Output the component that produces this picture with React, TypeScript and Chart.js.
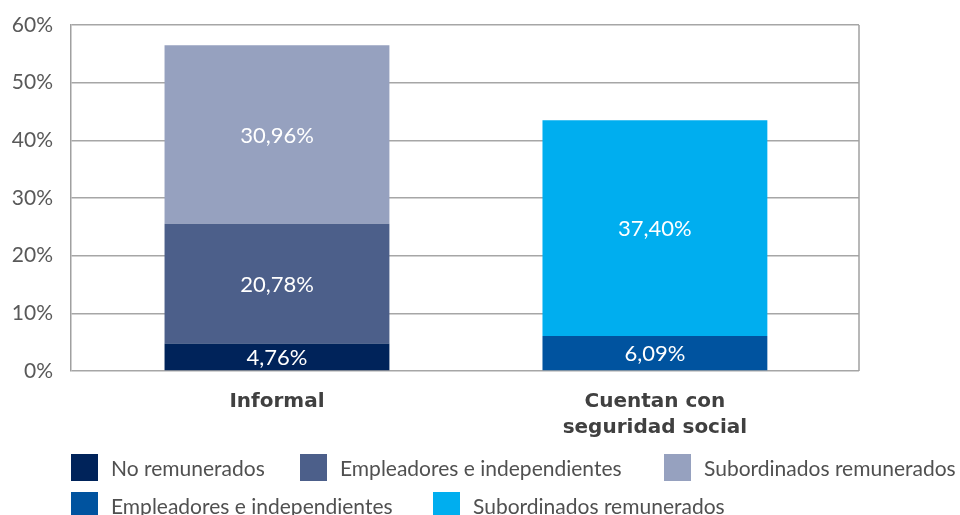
import React, { useEffect, useRef } from "react";
import { Chart, registerables } from "chart.js";

Chart.register(...registerables);

const categories: (string | string[])[] = ["Informal", ["Cuentan con", "seguridad social"]];
const categoryPositions = [0, 1];
const seriesNames = [
  "No remunerados",
  "Empleadores e independientes",
  "Subordinados remunerados",
  "Empleadores e independientes",
  "Subordinados remunerados",
];
const seriesCategory = [0, 0, 0, 1, 1];
const seriesValues = [4.76, 20.78, 30.96, 6.09, 37.4];
const seriesColors = ["#00235A", "#4C5F8A", "#96A1BF", "#00539F", "#00AEEF"];
const yTicks = [0, 10, 20, 30, 40, 50, 60];

const FONT = "Lato, 'Open Sans', sans-serif";
const BOLD_FONT = "'DejaVu Sans', sans-serif";

const fmt = (v: number) => v.toFixed(2).replace(".", ",") + "%";

const frameAndLabels = {
  id: "frameAndLabels",
  beforeDatasetsDraw(chart: any) {
    const { ctx, chartArea } = chart;
    ctx.save();
    ctx.strokeStyle = "#A0A0A0";
    ctx.lineWidth = 1.5;
    ctx.beginPath();
    ctx.moveTo(chartArea.right, chartArea.top);
    ctx.lineTo(chartArea.right, chartArea.bottom);
    ctx.stroke();
    ctx.restore();
  },
  afterDatasetsDraw(chart: any) {
    const { ctx } = chart;
    ctx.save();
    ctx.fillStyle = "#FFFFFF";
    ctx.font = `22px ${FONT}`;
    ctx.textAlign = "center";
    ctx.textBaseline = "middle";
    chart.data.datasets.forEach((ds: any, i: number) => {
      const meta = chart.getDatasetMeta(i);
      meta.data.forEach((el: any, j: number) => {
        const v = ds.data[j].y;
        const cy = (el.y + el.base) / 2;
        ctx.fillText(fmt(v), el.x, cy + 1);
      });
    });
    ctx.restore();
  },
};

function ChartView() {
  const ref = useRef<HTMLCanvasElement | null>(null);
  useEffect(() => {
    if (!ref.current) return;
    const datasets = seriesNames.map((name, i) => ({
      label: name,
      data: [{ x: categoryPositions[seriesCategory[i]], y: seriesValues[i] }],
      backgroundColor: seriesColors[i],
      borderWidth: 0,
      barPercentage: 1,
      categoryPercentage: 0.595,
    }));
    const chart = new Chart(ref.current, {
      type: "bar",
      data: { datasets },
      options: {
        animation: false,
        responsive: false,
        maintainAspectRatio: false,
        layout: { padding: { left: 0, right: 101, top: 25, bottom: 0 } },
        plugins: {
          legend: { display: false },
          tooltip: { enabled: false },
        },
        scales: {
          x: {
            type: "linear",
            stacked: true,
            offset: false,
            bounds: "data",
            min: -0.545,
            max: 1.54,
            grid: { display: false, offset: false },
            border: { display: false },
            afterBuildTicks: (scale: any) => {
              scale.ticks = categoryPositions.map((v) => ({ value: v }));
            },
            afterFit: (scale: any) => {
              scale.height = 144;
            },
            ticks: {
              padding: 10,
              autoSkip: false,
              maxRotation: 0,
              color: "#404040",
              font: { family: BOLD_FONT, size: 20, weight: "bold", lineHeight: 1.3 },
              callback: (v: any) => {
                const idx = categoryPositions.indexOf(Number(v));
                return idx >= 0 ? (categories[idx] as any) : "";
              },
            },
          },
          y: {
            stacked: true,
            min: 0,
            max: 60,
            afterBuildTicks: (scale: any) => {
              scale.ticks = yTicks.map((v) => ({ value: v }));
            },
            afterFit: (scale: any) => {
              scale.width = 71;
              scale.paddingTop = 0;
              scale.paddingBottom = 0;
            },
            grid: { color: "#A6A6A6", lineWidth: 1.5, drawTicks: false },
            border: { display: true, color: "#A0A0A0", width: 1.5 },
            ticks: {
              padding: 18,
              color: "#595959",
              font: { family: FONT, size: 21 },
              callback: (v: any) => `${v}%`,
            },
          },
        },
      },
      plugins: [frameAndLabels],
    } as any);
    return () => chart.destroy();
  }, []);
  return <canvas ref={ref} width={960} height={515} style={{ position: "absolute", left: 0, top: 0 }} />;
}

const legendRows = [
  [
    { s: 0, x: 71 },
    { s: 1, x: 300 },
    { s: 2, x: 664 },
  ],
  [
    { s: 3, x: 71 },
    { s: 4, x: 433 },
  ],
];
const legendRowTops = [454, 492];

export default function App() {
  return (
    <div
      style={{
        position: "fixed",
        left: 0,
        top: 0,
        width: 960,
        height: 515,
        background: "#FFFFFF",
        overflow: "hidden",
      }}
    >
      <ChartView />
      {legendRows.map((row, r) =>
        row.map((it) => (
          <div
            key={`${r}-${it.s}`}
            style={{
              position: "absolute",
              left: it.x,
              top: legendRowTops[r],
              height: 27,
              display: "flex",
              alignItems: "center",
              whiteSpace: "nowrap",
            }}
          >
            <span
              style={{
                display: "inline-block",
                width: 27,
                height: 27,
                background: seriesColors[it.s],
                marginRight: 13,
                flex: "none",
              }}
            />
            <span style={{ fontFamily: FONT, fontSize: 21, color: "#505050" }}>{seriesNames[it.s]}</span>
          </div>
        ))
      )}
    </div>
  );
}
